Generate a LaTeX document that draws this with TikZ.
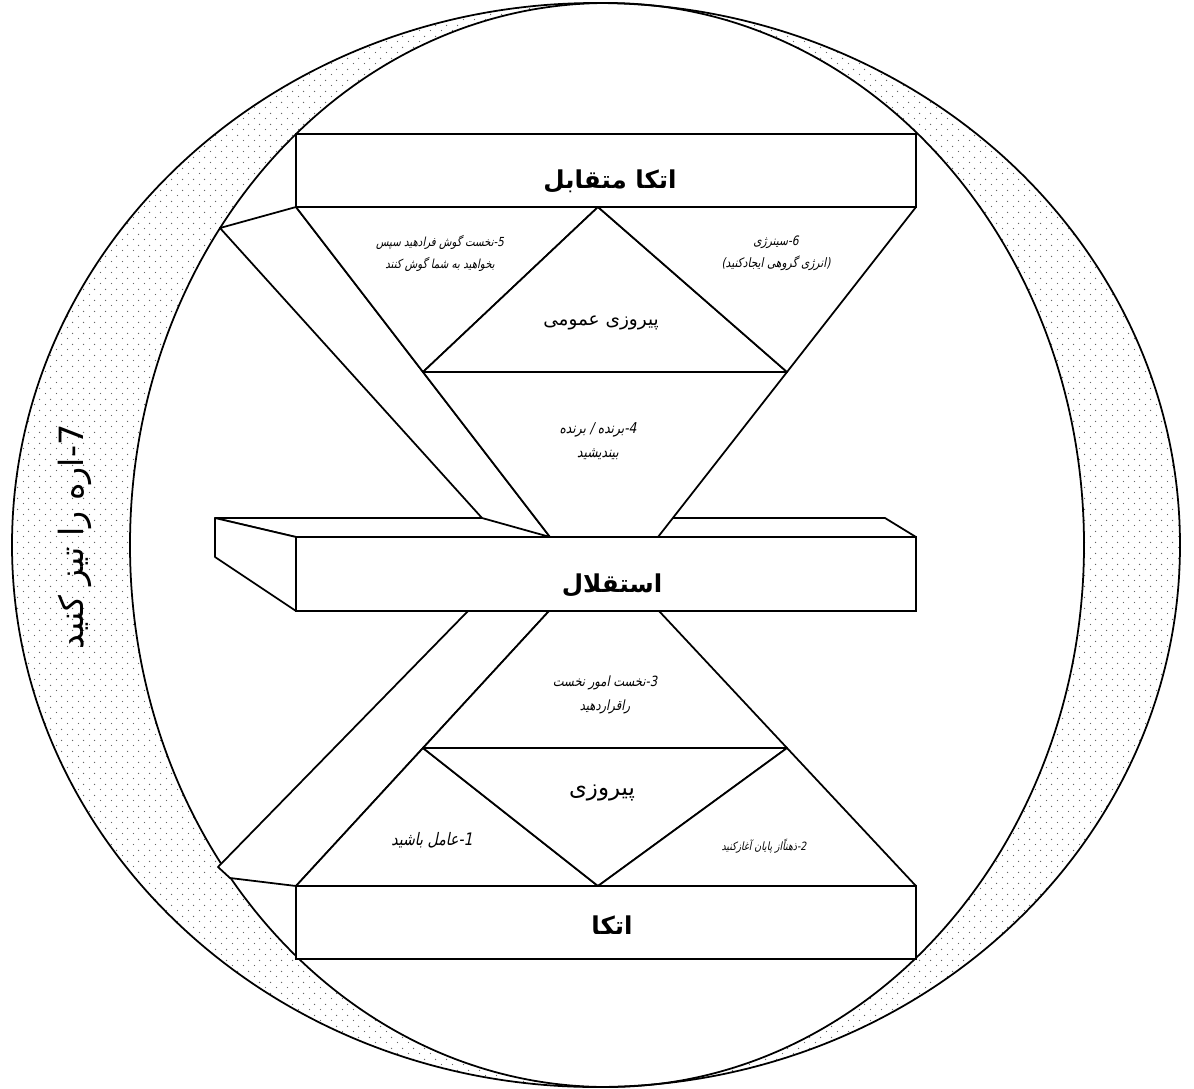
\documentclass[tikz,border=0pt]{standalone}
\usepackage{fontspec}
\usetikzlibrary{patterns}
\newfontfamily\arabicfont[Script=Arabic]{DejaVu Sans}
\newfontfamily\arabicslant[Script=Arabic,FakeSlant=0.2,FakeStretch=0.82]{DejaVu Sans}
\TeXXeTstate=1

\pgfdeclarepatternformonly{stipple}{\pgfqpoint{0pt}{0pt}}{\pgfqpoint{6pt}{6pt}}{\pgfqpoint{6pt}{6pt}}{%
  \pgfpathcircle{\pgfqpoint{1.5pt}{1.5pt}}{.4pt}%
  \pgfpathcircle{\pgfqpoint{4.5pt}{4.5pt}}{.4pt}%
  \pgfusepath{fill}}

\tikzset{
  facet/.style={draw, fill=white, line width=1pt, line join=round},
  plate/.style={draw, fill=white, line width=1.3pt, minimum width=12.4cm, minimum height=1.46cm, inner sep=0pt},
  heading/.style={font=\arabicfont\bfseries\fontsize{14}{16}\selectfont},
  phrase/.style={font=\arabicfont\fontsize{#1}{12}\selectfont},
  phrase/.default=10.5,
  note/.style={font=\arabicslant\fontsize{#1}{12.5}\selectfont, align=center},
  note/.default=7,
}

\begin{document}
\begin{tikzpicture}[x=0.02cm,y=-0.02cm]
\useasboundingbox (0,0) rectangle (1194,1089);

% ring
\fill[pattern=stipple, pattern color=black!60, even odd rule]
  (596,545) ellipse [x radius=584, y radius=542]
  (607,545) ellipse [x radius=477, y radius=542];
\draw[line width=1pt] (596,545) ellipse [x radius=584, y radius=542];
\draw[line width=1pt] (607,545) ellipse [x radius=477, y radius=542];

\coordinate (tl) at (296,207);
\coordinate (tm) at (598,207);
\coordinate (tr) at (916,207);
\coordinate (ul) at (423,372);
\coordinate (ur) at (787,372);
\coordinate (ml) at (550,537);
\coordinate (mr) at (658,537);
\coordinate (nl) at (549,611);
\coordinate (nr) at (659,611);
\coordinate (ll) at (423,748);
\coordinate (lr) at (787,748);
\coordinate (bl) at (296,886);
\coordinate (bm) at (598,886);
\coordinate (br) at (916,886);

% middle block
\draw[facet] (215,518) -- (885,518) -- (916,537) -- (296,537) -- cycle;
\draw[facet] (215,518) -- (296,537) -- (296,611) -- (215,557) -- cycle;
\node[plate, minimum height=1.48cm] (mid) at (606,574) {};

% upper half
\draw[facet] (tl) -- (220,228) -- (482,518) -- (ml) -- cycle;
\draw[facet] (tl) -- (tm) -- (ul) -- cycle;
\draw[facet] (tm) -- (ur) -- (ul) -- cycle;
\draw[facet] (tm) -- (tr) -- (ur) -- cycle;
\draw[facet] (ul) -- (ur) -- (mr) -- (ml) -- cycle;

% lower half
\draw[facet] (468,611) -- (nl) -- (bl) -- (230,878) -- (218,867) -- cycle;
\draw[facet] (nl) -- (nr) -- (lr) -- (ll) -- cycle;
\draw[facet] (ll) -- (bm) -- (bl) -- cycle;
\draw[facet] (ll) -- (lr) -- (bm) -- cycle;
\draw[facet] (lr) -- (br) -- (bm) -- cycle;

\node[plate] (top) at (606,170.5) {};
\node[plate] (bot) at (606,922.5) {};

\begin{scope}[every node/.style={inner sep=0pt}]
  \node[heading] (toptext) at (610,181) {\beginR اتکا متقابل\endR};
  \node[heading] (midtext) at (612,585) {\beginR استقلال\endR};
  \node[heading] (bottext) at (612,925) {\beginR اتکا\endR};
  \node[phrase] (common) at (601,323) {\beginR پیروزی عمومی\endR};
  \node[phrase=13] (private) at (602,793) {\beginR پیروزی\endR};
  \node[note=7.1] (h5) at (440,253) {\beginR 5\kern0pt-\kern0pt نخست گوش فرادهید سپس\endR\\\beginR بخواهید به شما گوش کنند\endR};
  \node[note=7.4] (h6) at (776,253) {\beginR 6\kern0pt-\kern0pt سینرژی\endR\\\beginR (انرژی گروهی ایجادکنید)\endR};
  \node[note, font=\arabicslant\fontsize{8.5}{13.5}\selectfont] (h4) at (598,441) {\beginR 4\kern0pt-\kern0pt برنده / برنده\endR\\\beginR بیندیشید\endR};
  \node[note, font=\arabicslant\fontsize{8}{13.8}\selectfont] (h3) at (605,695) {\beginR 3\kern0pt-\kern0pt نخست امور نخست\endR\\\beginR راقراردهید\endR};
  \node[note=9.8] (h1) at (432,840) {\beginR 1\kern0pt-\kern0pt عامل باشید\endR};
  \node[note=6.5] (h2) at (764,846) {\beginR 2\kern0pt-\kern0pt ذهناًاز پایان آغازکنید\endR};
  \node[phrase=19, rotate=90] (h7) at (75,537) {\beginR 7\kern0pt-\kern0pt اره را تیز کنید\endR};
\end{scope}

\end{tikzpicture}
\end{document}
